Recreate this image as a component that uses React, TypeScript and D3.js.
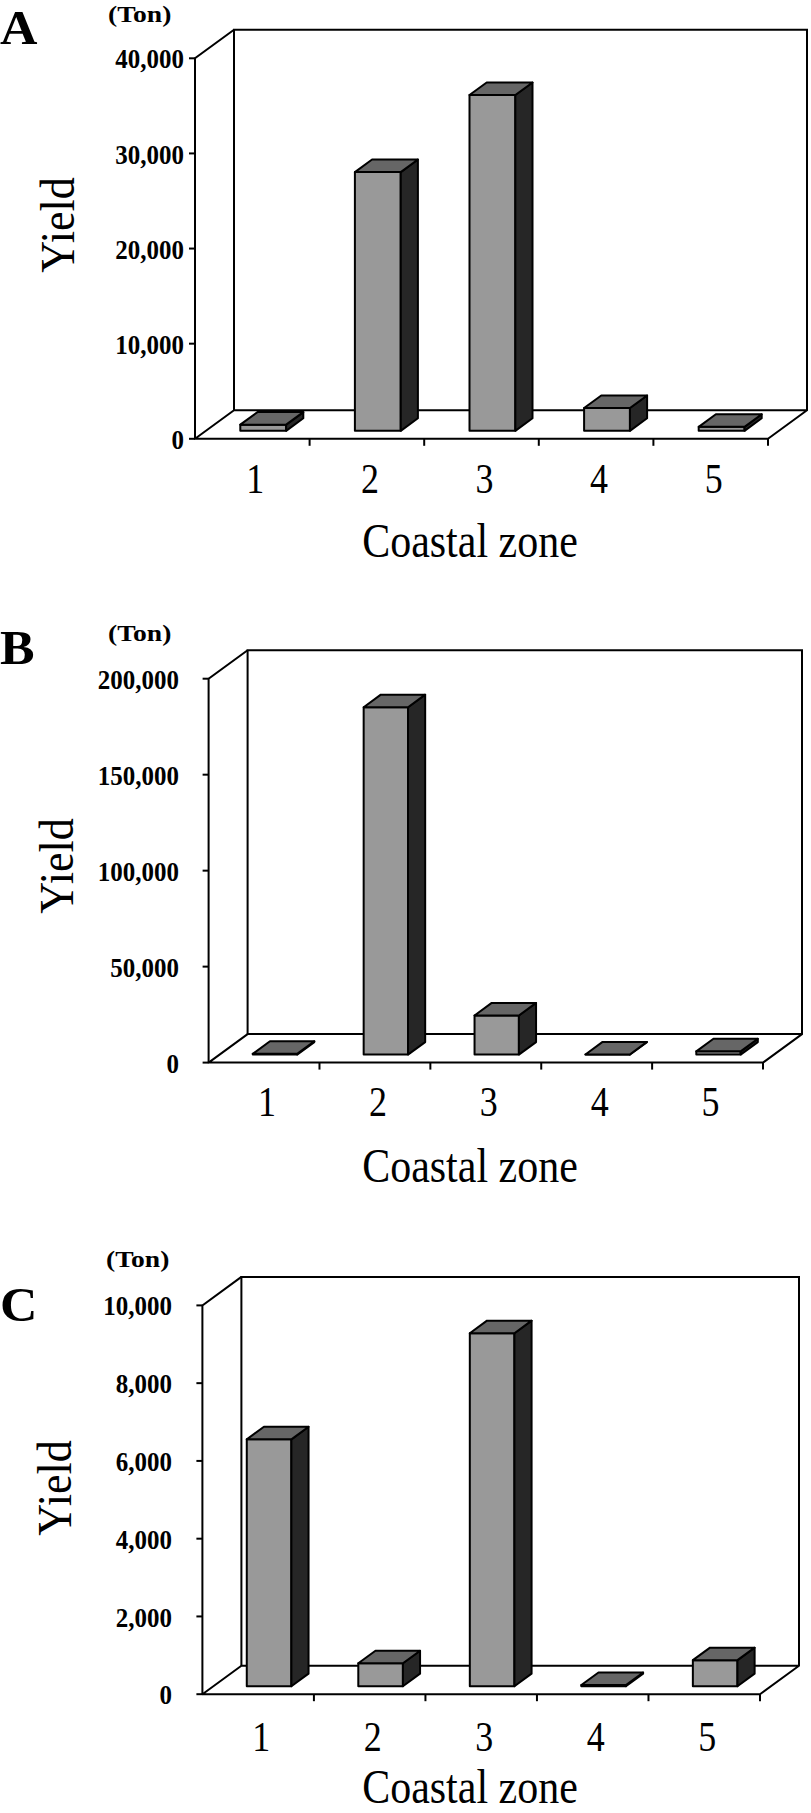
import React, { useEffect } from 'react';
import * as d3 from 'd3';

const categories = ['1', '2', '3', '4', '5'];

const yieldA = [650, 27200, 35300, 2400, 420];
const yieldB = [400, 181000, 20400, 80, 1700];
const yieldC = [6350, 590, 9080, 30, 670];

const ticksA = [0, 10000, 20000, 30000, 40000];
const ticksB = [0, 50000, 100000, 150000, 200000];
const ticksC = [0, 2000, 4000, 6000, 8000, 10000];

const panelLetters = ['A', 'B', 'C'];
const unitLabel = '(Ton)';
const yTitle = 'Yield';
const xTitle = 'Coastal zone';

const FRONT = '#999999';
const TOP = '#666666';
const SIDE = '#262626';
const SERIF = '"Liberation Serif", "Times New Roman", serif';

type PanelCfg = {
  letter: string;
  values: number[];
  ticks: number[];
  x0: number;
  xEnd: number;
  y0: number;
  yTop: number;
  labelRight: number;
  letterBase: number;
  tonX: number;
  tonBase: number;
  yieldX: number;
  yieldY: number;
  catBase: number;
  titleBase: number;
};

const panels: PanelCfg[] = [
  { letter: panelLetters[0], values: yieldA, ticks: ticksA, x0: 195, xEnd: 768, y0: 438.8, yTop: 58.3, labelRight: 184, letterBase: 44, tonX: 108, tonBase: 22, yieldX: 57, yieldY: 225, catBase: 493, titleBase: 557 },
  { letter: panelLetters[1], values: yieldB, ticks: ticksB, x0: 208.6, xEnd: 763, y0: 1062.6, yTop: 678.7, labelRight: 179, letterBase: 664, tonX: 108, tonBase: 641, yieldX: 56, yieldY: 866, catBase: 1116, titleBase: 1182 },
  { letter: panelLetters[2], values: yieldC, ticks: ticksC, x0: 202.4, xEnd: 760, y0: 1694.2, yTop: 1305.4, labelRight: 172, letterBase: 1321, tonX: 106, tonBase: 1267, yieldX: 54, yieldY: 1488, catBase: 1751, titleBase: 1803 },
];

const DX = 39;
const DY = -28.5;
const FRONT_F = 0.28;
const DEPTH_F = 0.44;

const fmt = d3.format(',');

function SText({ x, y, k = 1.15, kx = 1, children, ...rest }: any) {
  return (
    <text transform={`translate(${x},${y}) scale(${kx},${k})`} x={0} y={0} fontFamily={SERIF} {...rest}>{children}</text>
  );
}

function Panel({ p }: { p: PanelCfg }) {
  const x = d3.scaleBand<string>().domain(categories).range([p.x0, p.xEnd]).paddingInner(0.6).paddingOuter(0.3);
  const step = x.step();
  const yMax = p.ticks[p.ticks.length - 1];
  const y = d3.scaleLinear().domain([0, yMax]).range([p.y0, p.yTop]);
  const bx = FRONT_F * DX;
  const by = FRONT_F * DY;
  const ddx = DEPTH_F * DX;
  const ddy = DEPTH_F * DY;
  const line = d3.line();

  const floor = line([
    [p.x0, p.y0], [p.xEnd, p.y0], [p.xEnd + DX, p.y0 + DY], [p.x0 + DX, p.y0 + DY],
  ]) + 'Z';
  const wall = line([
    [p.x0 + DX, p.y0 + DY], [p.x0 + DX, y(yMax) + DY], [p.xEnd + DX, y(yMax) + DY], [p.xEnd + DX, p.y0 + DY],
  ]);

  return (
    <g>
      <SText x={0} y={p.letterBase} k={1} kx={1.08} fontWeight="bold" fontSize={48}>{p.letter}</SText>
      <SText x={p.tonX} y={p.tonBase} k={1} kx={1.15} fontWeight="bold" fontSize={24}>{unitLabel}</SText>
      <path d={wall} fill="#fff" stroke="#000" strokeWidth={2} />
      <path d={floor} fill="#fff" stroke="#000" strokeWidth={2} strokeLinejoin="round" />
      {p.values.map((v, i) => {
        const fx = (x(categories[i]) as number) + bx;
        const w = x.bandwidth();
        const yb = p.y0 + by;
        const yt = y(v) + by;
        const front = line([[fx, yb], [fx + w, yb], [fx + w, yt], [fx, yt]]) + 'Z';
        const top = line([[fx, yt], [fx + w, yt], [fx + w + ddx, yt + ddy], [fx + ddx, yt + ddy]]) + 'Z';
        const side = line([[fx + w, yb], [fx + w + ddx, yb + ddy], [fx + w + ddx, yt + ddy], [fx + w, yt]]) + 'Z';
        return (
          <g key={i} stroke="#000" strokeWidth={2} strokeLinejoin="round">
            <path d={front} fill={FRONT} />
            <path d={side} fill={SIDE} />
            <path d={top} fill={TOP} />
          </g>
        );
      })}
      <path d={line([[p.x0 + DX, y(yMax) + DY], [p.x0, y(yMax)], [p.x0, p.y0]]) as string} fill="none" stroke="#000" strokeWidth={2} />
      {p.ticks.map((t) => (
        <g key={t}>
          <line x1={p.x0 - 6} x2={p.x0} y1={y(t)} y2={y(t)} stroke="#000" strokeWidth={2} />
          <SText x={p.labelRight} y={y(t)} k={1.12} dy="0.36em" textAnchor="end" fontWeight="bold" fontSize={25}>{fmt(t)}</SText>
        </g>
      ))}
      {categories.map((c, i) => (
        <line key={c} x1={p.x0 + step * (i + 1)} x2={p.x0 + step * (i + 1)} y1={p.y0} y2={p.y0 + 7} stroke="#000" strokeWidth={2} />
      ))}
      {categories.map((c) => (
        <SText key={c} x={(x(c) as number) + x.bandwidth() / 2 + 3} y={p.catBase} k={1.2} textAnchor="middle" fontSize={36}>{c}</SText>
      ))}
      <text transform={`translate(${p.yieldX},${p.yieldY}) rotate(-90) scale(1,1.08)`} textAnchor="middle" dy="0.35em" fontFamily={SERIF} fontSize={44}>{yTitle}</text>
      <SText x={470} y={p.titleBase} k={1.15} textAnchor="middle" fontSize={42}>{xTitle}</SText>
    </g>
  );
}

export default function App() {
  useEffect(() => {
    document.body.style.margin = '0';
  }, []);
  return (
    <svg width={811} height={1813} viewBox="0 0 811 1813" style={{ position: 'absolute', left: 0, top: 0, background: '#fff' }}>
      <rect x={0} y={0} width={811} height={1813} fill="#fff" />
      {panels.map((p) => (
        <Panel key={p.letter} p={p} />
      ))}
    </svg>
  );
}
